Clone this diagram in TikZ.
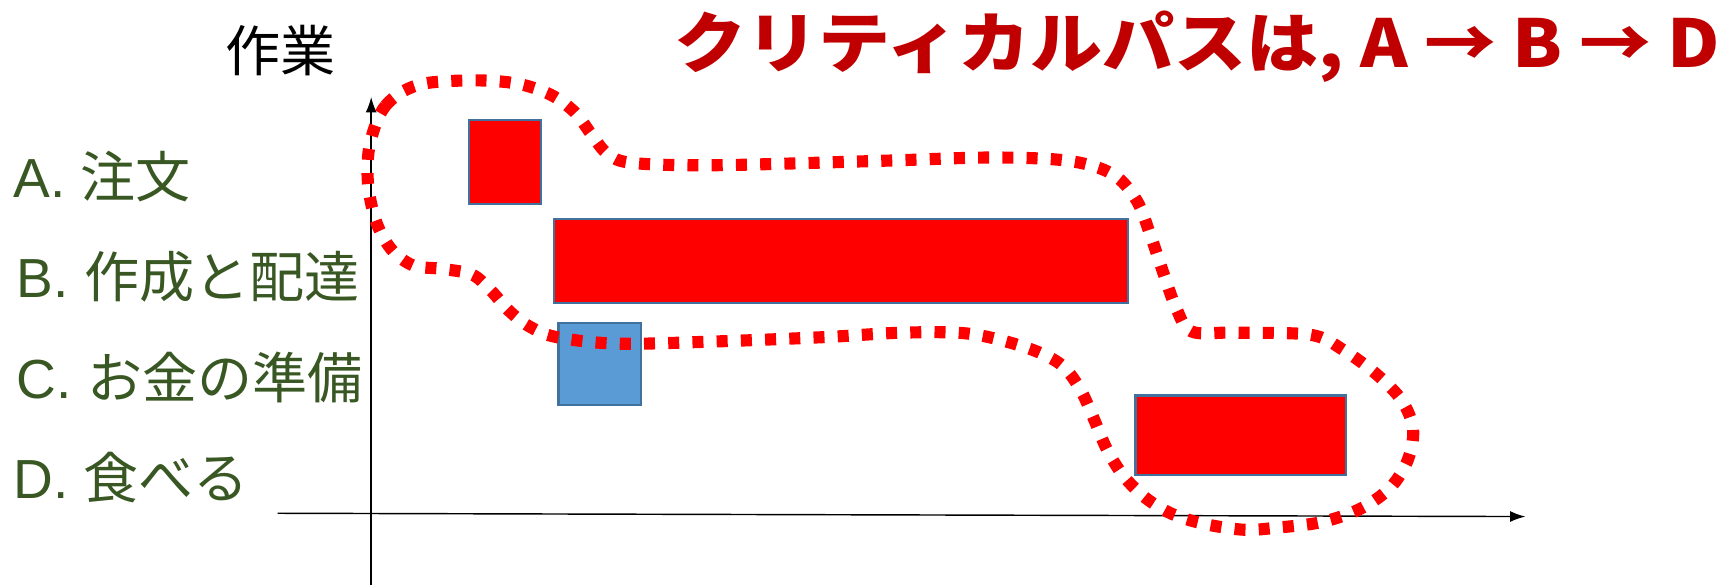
\documentclass[tikz,border=0pt]{standalone}
\usepackage{fontspec}
\setmainfont{Liberation Sans}
\newfontfamily\jp{Noto Sans CJK JP}
\usetikzlibrary{arrows.meta}
\definecolor{lbl}{HTML}{385723}
\definecolor{ttl}{HTML}{C00000}
\definecolor{bord}{HTML}{41719C}
\definecolor{cbl}{HTML}{5B9BD5}
\begin{document}
\begin{tikzpicture}[x=1pt,y=-1pt,
  task/.style={draw=bord, line width=2pt, fill=red, anchor=north west, inner sep=0pt},
  lab/.style={anchor=west, text=lbl, font=\fontsize{50}{56}\selectfont, inner sep=0pt},
  axis/.style={line width=1.3pt, -{Latex[length=14pt,width=10pt]}},
  crit/.style={draw=red, line width=11pt, dash pattern=on 10pt off 12pt}]
\useasboundingbox (0,0) rectangle (1568,531);
% title
\node[anchor=east, text=ttl, font=\jp\bfseries\fontsize{60}{66}\selectfont, inner sep=0pt] (title) at (1562,42) {\scalebox{1.09}[1]{クリティカルパスは, A → B → D}};
\node[font=\jp\fontsize{50}{56}\selectfont, inner sep=0pt] (ylab) at (255,46) {作業};
% labels
\node[lab] (la) at (12,160) {A. {\jp 注文}};
\node[lab] (lb) at (15,251) {B. {\jp 作成と配達}};
\node[lab] (lc) at (15,343) {C. {\jp お金の準備}};
\node[lab] (ld) at (12,434) {D. {\jp 食べる}};
% axes
\coordinate (yb) at (337,531);
\coordinate (yt) at (337,88);
\coordinate (xl) at (252,466);
\coordinate (xr) at (1385,469);
\draw[axis] (yb) -- (yt);
\draw[axis] (xl) -- (xr);
% bars
\node[task, minimum width=65pt, minimum height=76pt] (a) at (425,108) {};
\node[task, minimum width=521pt, minimum height=76pt] (b) at (502,198) {};
\node[task, fill=cbl, minimum width=75pt, minimum height=75pt] (c) at (506,292) {};
\node[task, minimum width=191pt, minimum height=72pt] (d) at (1030,358) {};
% critical path outline
\draw[crit] plot[smooth cycle, tension=0.55] coordinates {
 (336,130) (350,96) (380,77) (430,73) (470,76) (500,86) (522,102) (537,122) (552,140) (575,148)
 (650,150) (800,146) (900,143) (970,146) (1010,158) (1032,182) (1045,215) (1057,250) (1068,280)
 (1082,301) (1120,302) (1190,304) (1220,318) (1250,340) (1273,364) (1283,390) (1278,418)
 (1262,443) (1235,462) (1200,474) (1160,479) (1130,481) (1095,476) (1065,467) (1040,452)
 (1020,432) (1005,408) (993,380) (980,352) (962,330) (930,315) (880,303) (820,302) (750,306)
 (650,310) (560,312) (505,306) (480,296) (462,282) (445,263) (428,249) (400,244) (375,241)
 (355,226) (341,200) (334,165)};
\end{tikzpicture}
\end{document}
